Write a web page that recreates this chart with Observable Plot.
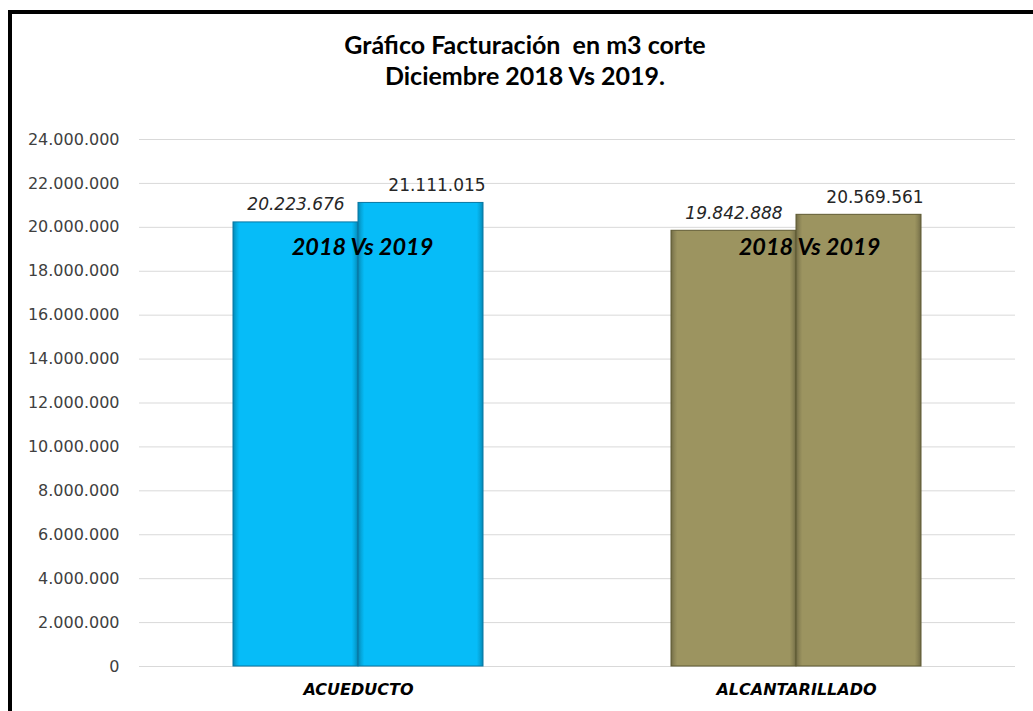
<!DOCTYPE html>
<html><head><meta charset="utf-8">
<script src="https://cdn.jsdelivr.net/npm/d3@7"></script>
<script src="https://cdn.jsdelivr.net/npm/@observablehq/plot@0.6"></script>
<style>
body{margin:0;background:#fff;width:1033px;height:711px;overflow:hidden;position:relative;font-family:Lato}
#frame{position:absolute;left:8px;top:10px;width:1100px;height:800px;border-left:4px solid #000;border-top:4px solid #000}
#title{position:absolute;left:0;width:1050px;top:29px;text-align:center;font:bold 25px Lato;line-height:31px;color:#000}
#chart{position:absolute;left:0;top:100px}
</style></head><body>
<div id="frame"></div>
<div id="title">Gráfico Facturación&nbsp; en m3 corte<br>Diciembre 2018 Vs 2019.</div>
<div id="chart"></div>
<script>
const categories = ["ACUEDUCTO", "ALCANTARILLADO"];
const years = ["2018", "2019"];
const values2018 = [20223676, 19842888];
const values2019 = [21111015, 20569561];
const yTicks = [0, 2000000, 4000000, 6000000, 8000000, 10000000, 12000000, 14000000, 16000000, 18000000, 20000000, 22000000, 24000000];
const comparisonLabel = "2018 Vs 2019";
const fillColors = ["#06bcf8", "#9c9460"];
const edgeColors = ["#0877a3", "#5f5a32"];

const fmt = d3.formatLocale({decimal: ",", thousands: ".", grouping: [3], currency: ["$", ""]}).format(",d");
const data = categories.flatMap((c, i) => [
  {cat: c, year: years[0], value: values2018[i], ci: i},
  {cat: c, year: years[1], value: values2019[i], ci: i}
]);

const barMarks = categories.map((c, i) =>
  Plot.barY(data.filter(d => d.ci === i), {fx: "cat", x: "year", y: "value", fill: `url(#bev${i})`, stroke: edgeColors[i], strokeWidth: 1})
);
const comparisonMarks = categories.map((c, i) =>
  Plot.text([c], {fx: d => d, text: () => comparisonLabel, frameAnchor: "top", dy: 99, dx: i === 0 ? 4 : 13, fontSize: 23.5, fontFamily: "Lato", fontWeight: "bold", fontStyle: "italic", fill: "#000"})
);

const chart = Plot.plot({
  width: 1033, height: 611,
  marginTop: 39, marginBottom: 45, marginLeft: 138, marginRight: 18,
  style: {background: "transparent"},
  fx: {domain: categories, padding: 0, label: null, axis: null},
  x: {domain: years, paddingInner: 0, paddingOuter: 0.747, axis: null},
  y: {domain: [0, 24000000], label: null, axis: null},
  marks: [
    Plot.ruleY(yTicks, {stroke: "#d9d9d9", strokeWidth: 1}),
    Plot.axisY({ticks: yTicks, tickFormat: fmt, tickSize: 0, tickPadding: 20, fontSize: 16, fontFamily: "DejaVu Sans", fill: "#404040", label: null}),
    Plot.axisFx({anchor: "bottom", tickSize: 0, tickPadding: 17, fontSize: 16, fontFamily: "DejaVu Sans", fontWeight: "bold", fontStyle: "italic", fill: "#000", label: null}),
    ...barMarks,
    Plot.text(data.filter(d => d.year === years[0]), {fx: "cat", x: "year", y: "value", text: d => fmt(d.value), lineAnchor: "bottom", dy: -12, fontSize: 17, fontFamily: "DejaVu Sans", fontStyle: "italic", fill: "#262626"}),
    Plot.text(data.filter(d => d.year === years[1]), {fx: "cat", x: "year", y: "value", text: d => fmt(d.value), lineAnchor: "bottom", dy: -12, dx: 16, fontSize: 17, fontFamily: "DejaVu Sans", fill: "#262626"}),
    ...comparisonMarks
  ]
});

// bevel-like shading gradients for the bars
const ns = "http://www.w3.org/2000/svg";
const defs = document.createElementNS(ns, "defs");
fillColors.forEach((col, i) => {
  const g = document.createElementNS(ns, "linearGradient");
  g.setAttribute("id", `bev${i}`);
  g.setAttribute("x1", "0"); g.setAttribute("x2", "1"); g.setAttribute("y1", "0"); g.setAttribute("y2", "0");
  const dark = d3.color(col).darker(0.9).formatHex();
  const mid = d3.color(col).darker(0.35).formatHex();
  [[0, dark], [0.025, mid], [0.05, col], [0.95, col], [0.975, mid], [1, dark]].forEach(([o, c]) => {
    const s = document.createElementNS(ns, "stop");
    s.setAttribute("offset", o); s.setAttribute("stop-color", c);
    g.appendChild(s);
  });
  defs.appendChild(g);
});
chart.insertBefore(defs, chart.firstChild);
document.getElementById("chart").appendChild(chart);
</script>
</body></html>
